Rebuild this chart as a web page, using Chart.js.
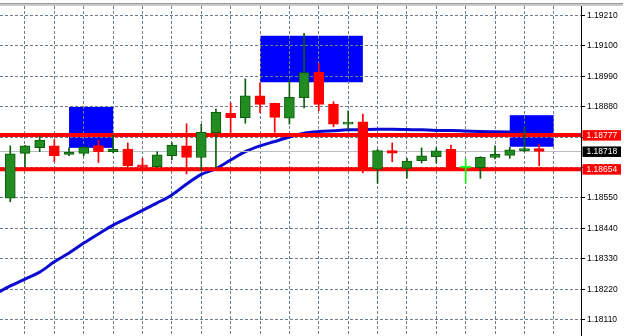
<!DOCTYPE html>
<html><head><meta charset="utf-8">
<style>html,body{margin:0;padding:0;background:#fff;overflow:hidden}canvas{display:block}</style>
<script src="https://cdn.jsdelivr.net/npm/chart.js@4.4.1/dist/chart.umd.min.js"></script>
</head><body>
<canvas id="c" width="625" height="336"></canvas>
<script>
// ---- data ----
const candleIndex = [0,1,2,3,4,5,6,7,8,9,10,11,12,13,14,15,16,17,18,19,20,21,22,23,24,25,26,27,28,29,30,31,32,33,34,35,36];
const opens  = [1.18549,1.18711,1.18732,1.18738,1.18707,1.18711,1.18739,1.18717,1.18727,1.18669,1.18663,1.18703,1.18738,1.18696,1.18786,1.18856,1.18840,1.18919,1.18892,1.18838,1.18912,1.19004,1.18889,1.18817,1.18825,1.18654,1.18721,1.18657,1.18685,1.18699,1.18726,1.18658,1.18659,1.18696,1.18704,1.18721,1.18728];
const highs  = [1.18738,1.18740,1.18774,1.18761,1.18731,1.18738,1.18759,1.18777,1.18749,1.18693,1.18717,1.18750,1.18818,1.18816,1.18871,1.18893,1.18980,1.18966,1.18893,1.18976,1.19145,1.19036,1.18898,1.18865,1.18853,1.18725,1.18749,1.18693,1.18731,1.18732,1.18741,1.18691,1.18699,1.18738,1.18733,1.18809,1.18745];
const lows   = [1.18536,1.18663,1.18717,1.18681,1.18703,1.18703,1.18678,1.18714,1.18662,1.18658,1.18660,1.18687,1.18637,1.18651,1.18657,1.18770,1.18820,1.18858,1.18787,1.18817,1.18875,1.18865,1.18807,1.18798,1.18640,1.18603,1.18681,1.18621,1.18676,1.18676,1.18651,1.18604,1.18621,1.18691,1.18693,1.18717,1.18666];
const closes = [1.18709,1.18738,1.18759,1.18703,1.18716,1.18734,1.18717,1.18726,1.18667,1.18662,1.18706,1.18741,1.18696,1.18787,1.18859,1.18840,1.18919,1.18888,1.18841,1.18914,1.19003,1.18888,1.18817,1.18823,1.18651,1.18721,1.18712,1.18683,1.18702,1.18720,1.18656,1.18658,1.18697,1.18708,1.18724,1.18727,1.18718];

const maIndex  = [-1,0,1,2,3,4,5,6,7,8,9,10,11,12,13,14,15,16,17,18,19,20,21,22,23,24,25,26,27,28,29,30,31,32,33,34,35,36];
const maValues = [1.18203,1.18232,1.18257,1.18282,1.18319,1.18351,1.18387,1.18420,1.18452,1.18478,1.18505,1.18532,1.18561,1.18600,1.18635,1.18656,1.18687,1.18717,1.18738,1.18754,1.18770,1.18784,1.18790,1.18793,1.18796,1.18797,1.18798,1.18798,1.18797,1.18796,1.18794,1.18794,1.18792,1.18790,1.18789,1.18788,1.18787,1.18786];

const zoneStart  = [4, 17, 34];
const zoneEnd    = [7, 24, 37];
const zoneTop    = [1.18879, 1.19136, 1.18849];
const zoneBottom = [1.18731, 1.18968, 1.18735];

const levelValues = [1.18777, 1.18654];
const bidValue = 1.18718;
const priceLabels = [1.18777, 1.18718, 1.18654];

const yTicks = [1.19210,1.19100,1.18990,1.18880,1.18770,1.18660,1.18550,1.18440,1.18330,1.18220,1.18110];
const xGridTicks = [0,2,4,6,8,10,12,14,16,18,20,22,24,26,28,30,32,34,36,38];

// ---- view ----
const X_MIN = -0.70, X_MAX = 38.85;
const Y_MIN = 1.180511, Y_MAX = 1.192436;

const BULL_FILL = '#228b22', BULL_LINE = '#0b5e0b';
const BEAR = '#ff0000', DOJI = '#00ff00';
function bodyFill(i){ return closes[i] > opens[i] ? BULL_FILL : (closes[i] < opens[i] ? BEAR : DOJI); }
function bodyLine(i){ return closes[i] > opens[i] ? BULL_LINE : (closes[i] < opens[i] ? BEAR : DOJI); }

const labelColors = ['#ff0000', '#000000', '#ff0000'];

const zonesPlugin = {
  id: 'zones',
  beforeDraw(chart) {
    const {ctx, chartArea, scales: {x, y}} = chart;
    ctx.save();
    ctx.beginPath();
    ctx.rect(chartArea.left, chartArea.top, chartArea.right - chartArea.left, chartArea.bottom - chartArea.top);
    ctx.clip();
    ctx.fillStyle = '#0000ff';
    for (let i = 0; i < zoneStart.length; i++) {
      const x1 = x.getPixelForValue(zoneStart[i]), x2 = x.getPixelForValue(zoneEnd[i]);
      const y1 = y.getPixelForValue(zoneTop[i]), y2 = y.getPixelForValue(zoneBottom[i]);
      ctx.fillRect(x1, y1, x2 - x1, y2 - y1);
    }
    ctx.restore();
  },
  beforeDatasetDraw(chart, args) {
    if (args.index !== 1) return;
    const {ctx, chartArea, scales: {y}} = chart;
    ctx.save();
    ctx.beginPath();
    ctx.rect(chartArea.left, chartArea.top, chartArea.right - chartArea.left, chartArea.bottom - chartArea.top);
    ctx.clip();
    const yb = Math.round(y.getPixelForValue(bidValue)) + 0.5;
    ctx.strokeStyle = '#b8bec4';
    ctx.lineWidth = 1;
    ctx.beginPath(); ctx.moveTo(chartArea.left, yb); ctx.lineTo(chartArea.right, yb); ctx.stroke();
    ctx.strokeStyle = '#ff0000';
    ctx.lineWidth = 4;
    levelValues.forEach(v => {
      const yy = y.getPixelForValue(v);
      ctx.beginPath(); ctx.moveTo(chartArea.left, yy); ctx.lineTo(chartArea.right, yy); ctx.stroke();
    });
    ctx.restore();
  },
  afterDraw(chart) {
    const {ctx, chartArea, scales: {y}} = chart;
    ctx.save();
    // top frame
    ctx.fillStyle = '#9a9a9a';
    ctx.fillRect(0, 3, 623, 1.5);
    ctx.fillStyle = '#c8c8c8';
    ctx.fillRect(0, 4.5, 623, 1.5);
    // price labels
    ctx.font = '8.5px "Liberation Sans"';
    ctx.textBaseline = 'middle';
    ctx.textAlign = 'left';
    priceLabels.forEach((v, i) => {
      const yy = y.getPixelForValue(v);
      ctx.fillStyle = labelColors[i];
      ctx.fillRect(chartArea.right + 1.5, yy - 5, 38.5, 10.5);
      ctx.fillStyle = '#ffffff';
      ctx.fillText(v.toFixed(5), chartArea.right + 5.5, yy + 0.5);
    });
    ctx.restore();
  }
};

new Chart(document.getElementById('c'), {
  type: 'bar',
  data: {
    datasets: [
      {
        label: 'body',
        data: candleIndex.map((xv, i) => ({x: xv, y: [opens[i], closes[i]]})),
        backgroundColor: candleIndex.map((_, i) => bodyFill(i)),
        borderColor: candleIndex.map((_, i) => bodyLine(i)),
        borderWidth: 1,
        borderSkipped: false,
        barThickness: 10,
        minBarLength: 2,
        grouped: false,
        order: 1
      },
      {
        label: 'wick',
        data: candleIndex.map((xv, i) => ({x: xv, y: [lows[i], highs[i]]})),
        backgroundColor: candleIndex.map((_, i) => bodyLine(i)),
        borderWidth: 0,
        barThickness: 1,
        grouped: false,
        order: 2
      },
      {
        type: 'line',
        label: 'MA',
        data: maIndex.map((xv, i) => ({x: xv, y: maValues[i]})),
        borderColor: '#0a0ad2',
        borderWidth: 3,
        pointRadius: 0,
        cubicInterpolationMode: 'monotone',
        fill: false,
        order: 3
      }
    ]
  },
  options: {
    responsive: false,
    animation: false,
    events: [],
    layout: {padding: {top: 6, left: 0, right: 0, bottom: 0}},
    plugins: {legend: {display: false}, tooltip: {enabled: false}},
    scales: {
      x: {
        type: 'linear',
        min: X_MIN, max: X_MAX,
        offset: false,
        afterBuildTicks: s => { s.ticks = xGridTicks.map(v => ({value: v})); },
        afterFit: s => { s.height = 0; s.paddingLeft = 0; s.paddingRight = 0; s.paddingTop = 0; s.paddingBottom = 0; },
        ticks: {display: false},
        grid: {color: '#6e7d8c', lineWidth: 1, drawTicks: false},
        border: {display: false, dash: [3, 2]}
      },
      y: {
        type: 'linear',
        position: 'right',
        min: Y_MIN, max: Y_MAX,
        afterBuildTicks: s => { s.ticks = yTicks.map(v => ({value: v})); },
        afterFit: s => { s.width = 44; s.paddingTop = 0; s.paddingBottom = 0; s.paddingLeft = 0; s.paddingRight = 0; },
        ticks: {
          color: '#000',
          font: {family: 'Liberation Sans', size: 8.5},
          padding: 2,
          callback: v => Number(v).toFixed(5)
        },
        grid: {color: '#6e7d8c', lineWidth: 1, tickLength: 4, tickColor: '#000', drawTicks: true},
        border: {display: true, color: '#000', width: 1, dash: [3, 2]}
      }
    }
  },
  plugins: [zonesPlugin]
});
</script>
</body></html>
